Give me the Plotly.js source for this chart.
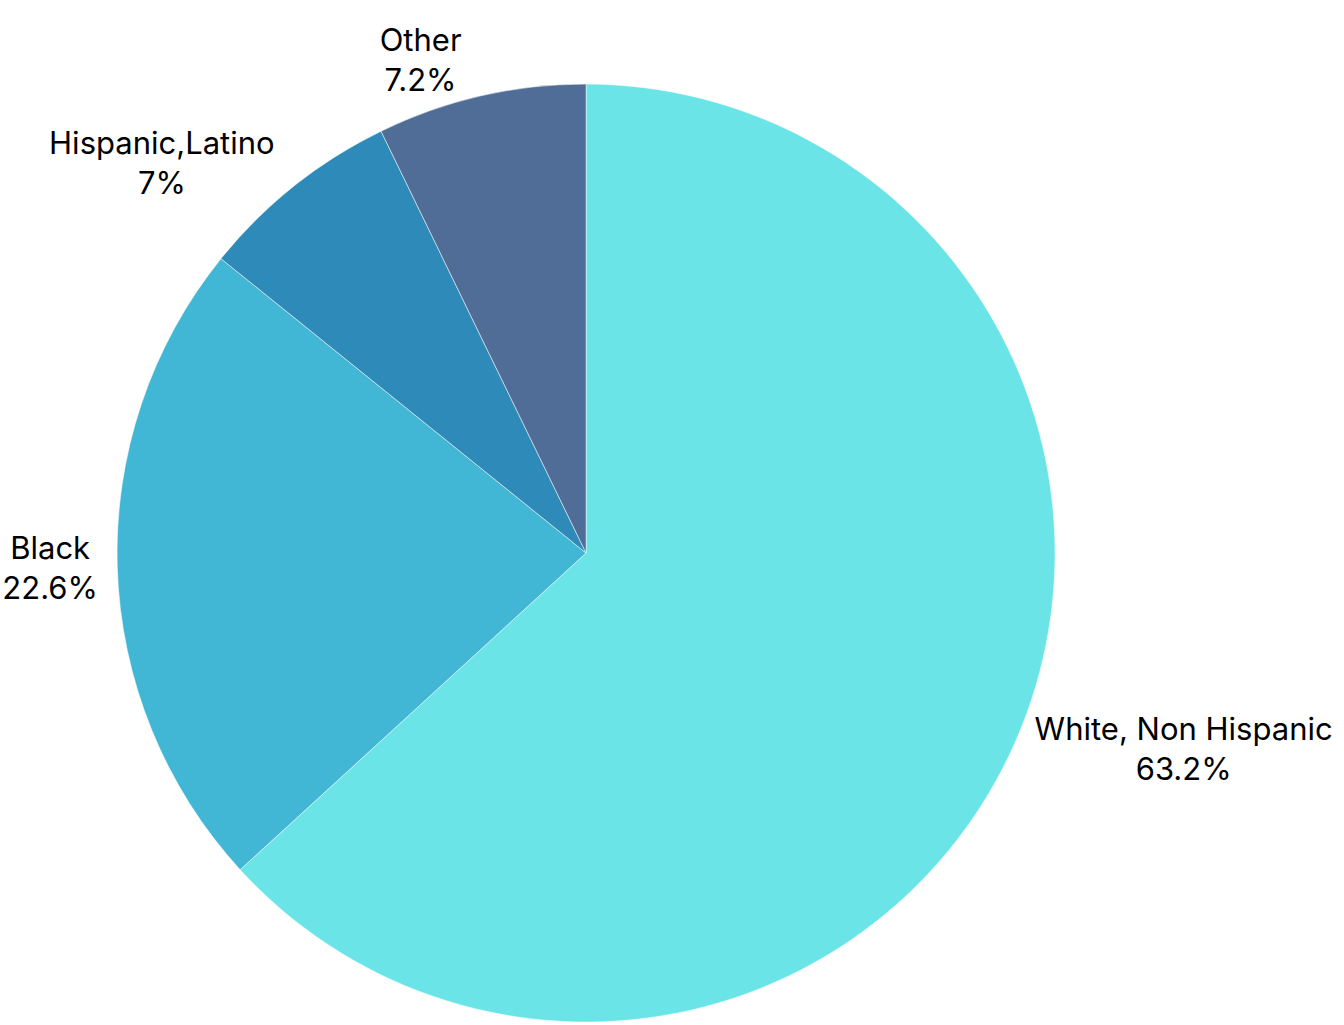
<!DOCTYPE html>
<html>
<head>
<meta charset="utf-8">
<script src="https://cdn.plot.ly/plotly-3.0.1.min.js"></script>
<style>html,body{margin:0;padding:0;background:#fff;}#chart{width:1344px;height:1025px;}</style>
</head>
<body>
<div id="chart"></div>
<script>
const labels = ["White, Non Hispanic", "Black", "Hispanic,Latino", "Other"];
const values = [63.2, 22.6, 7, 7.2];
const colors = ["#6BE4E8", "#42B7D5", "#2E8AB8", "#4F6D97"];

const trace = {
  type: "pie",
  labels: labels,
  values: values,
  sort: false,
  direction: "clockwise",
  rotation: 0,
  marker: {colors: colors, line: {color: "#ffffff", width: 0.5}},
  texttemplate: "%{label}<br>%{value}%",
  textposition: "outside",
  textfont: {family: "Inter, 'Open Sans', sans-serif", size: 31, color: "#000000"},
  outsidetextfont: {family: "Inter, 'Open Sans', sans-serif", size: 31, color: "#000000"},
  hoverinfo: "label+percent",
  showlegend: false,
  domain: {x: [0.0871, 0.785], y: [0.0029, 0.918]}
};

const layout = {
  width: 1344,
  height: 1025,
  margin: {l: 0, r: 0, t: 0, b: 0},
  paper_bgcolor: "#ffffff",
  showlegend: false
};

Plotly.newPlot("chart", [trace], layout, {displayModeBar: false, staticPlot: true});
</script>
</body>
</html>
